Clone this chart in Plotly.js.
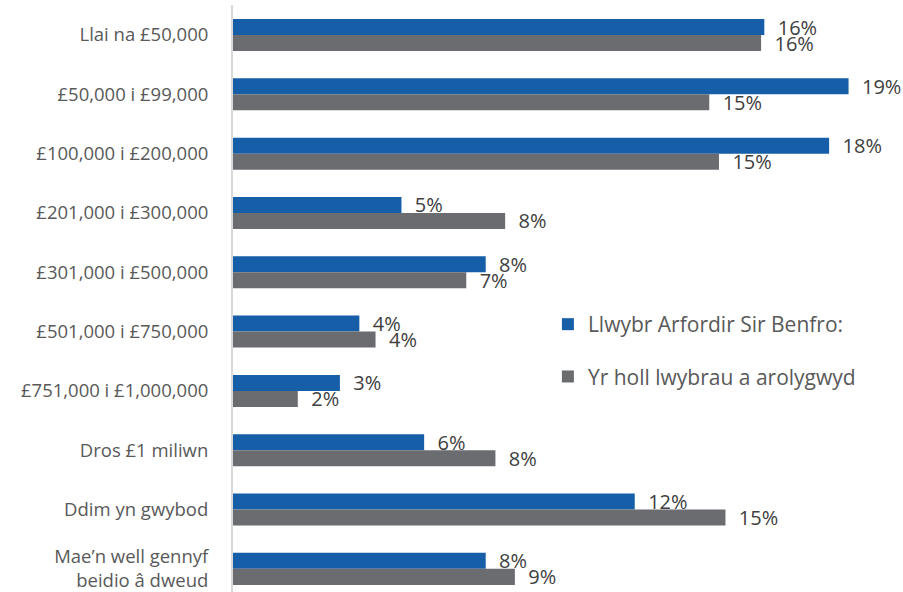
<!DOCTYPE html>
<html>
<head>
<meta charset="utf-8">
<script src="https://cdn.plot.ly/plotly-3.0.1.min.js"></script>
<style>html,body{margin:0;padding:0;background:#fff;}#chart{width:903px;height:592px;}</style>
</head>
<body>
<div id="chart"></div>
<script>
const categories = [
  "Llai na £50,000",
  "£50,000 i £99,000",
  "£100,000 i £200,000",
  "£201,000 i £300,000",
  "£301,000 i £500,000",
  "£501,000 i £750,000",
  "£751,000 i £1,000,000",
  "Dros £1 miliwn",
  "Ddim yn gwybod",
  "Mae’n well gennyf<br>beidio â dweud"
];
const seriesNames = ["Llwybr Arfordir Sir Benfro:", "Yr holl lwybrau a arolygwyd"];
const pembrokeshire = [16.4, 19.0, 18.4, 5.2, 7.8, 3.9, 3.3, 5.9, 12.4, 7.8];
const allPaths = [16.3, 14.7, 15.0, 8.4, 7.2, 4.4, 2.0, 8.1, 15.2, 8.7];
const colors = ["#165ea8", "#6b6c70"];

const font = "'Open Sans', 'Noto Sans', sans-serif";
const traces = [pembrokeshire, allPaths].map((vals, i) => ({
  type: "bar",
  orientation: "h",
  name: seriesNames[i],
  legendgroup: "g" + i,
  y: categories,
  x: vals,
  marker: {color: colors[i]},
  texttemplate: "\u00a0\u00a0%{x:.0f}%",
  textposition: "outside",
  cliponaxis: false,
  constraintext: "none",
  textfont: {family: font, size: 20, color: "#404040"},
  hoverinfo: "skip"
}));

const layout = {
  width: 903,
  height: 592,
  margin: {l: 233, r: 0, t: 5, b: 0},
  paper_bgcolor: "#ffffff",
  plot_bgcolor: "#ffffff",
  barmode: "group",
  bargap: 0.46,
  bargroupgap: 0,
  font: {family: font, color: "#595959"},
  showlegend: true,
  legend: {
    x: 0.47, y: 0.4906, xanchor: "left", yanchor: "top",
    font: {family: font, size: 21, color: "#595959"},
    traceorder: "grouped",
    tracegroupgap: 22,
    itemwidth: 30,
    bgcolor: "rgba(0,0,0,0)"
  },
  xaxis: {
    range: [0, 20.68],
    showgrid: false, zeroline: false, showline: false,
    showticklabels: false, ticks: ""
  },
  yaxis: {
    type: "category",
    range: [9.39, -0.506],
    showgrid: false, zeroline: false,
    showline: true, linecolor: "#d9d9d9", linewidth: 2,
    ticks: "", ticklabelstandoff: 19,
    tickfont: {family: font, size: 18.5, color: "#595959"}
  }
};

Plotly.newPlot("chart", traces, layout, {displayModeBar: false, staticPlot: true});
</script>
</body>
</html>
